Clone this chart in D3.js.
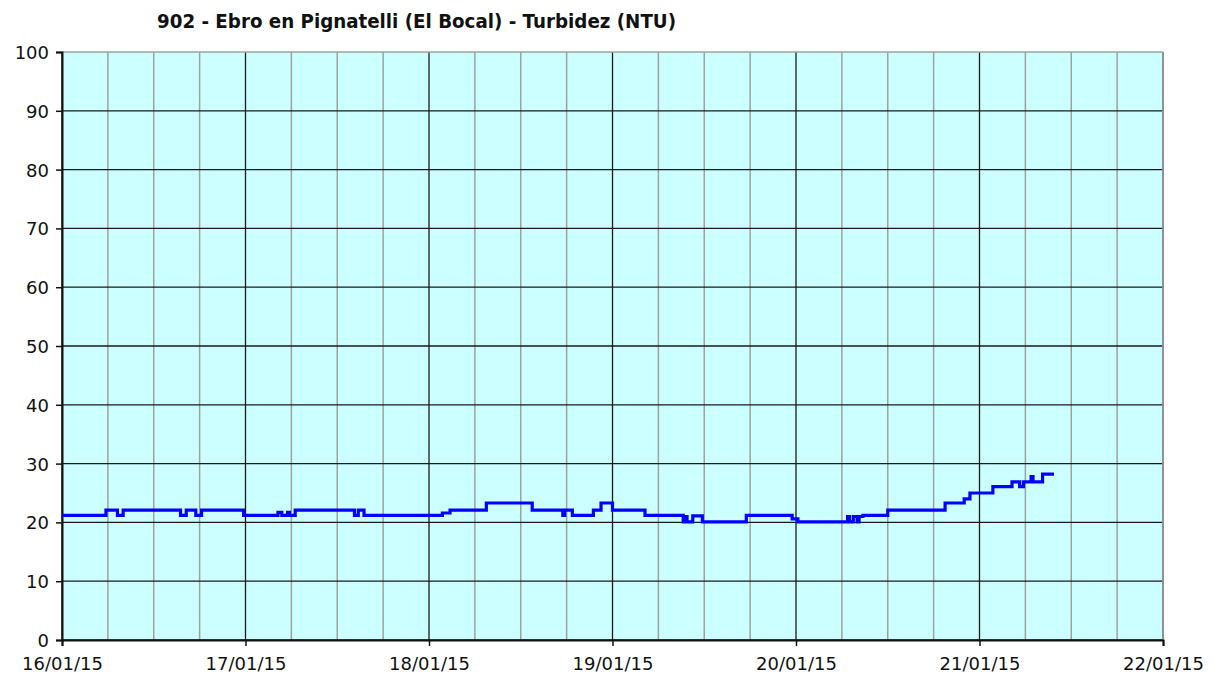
<!DOCTYPE html>
<html>
<head>
<meta charset="utf-8">
<script src="https://cdn.jsdelivr.net/npm/d3@7"></script>
<style>
  body { margin: 0; background: #fff; }
  svg text { font-family: "DejaVu Sans", Verdana, sans-serif; fill: #111; }
</style>
</head>
<body>
<svg width="1221" height="680"></svg>
<script>
// readings (step changes)
const times = [
  "16/01/15 00:00", "16/01/15 05:45", "16/01/15 07:15", "16/01/15 08:00", "16/01/15 15:30",
  "16/01/15 16:15", "16/01/15 17:30", "16/01/15 18:15", "16/01/15 23:45", "17/01/15 04:15",
  "17/01/15 04:45", "17/01/15 05:30", "17/01/15 05:45", "17/01/15 06:30", "17/01/15 14:15",
  "17/01/15 14:45", "17/01/15 15:30", "18/01/15 01:45", "18/01/15 02:45", "18/01/15 07:30",
  "18/01/15 13:30", "18/01/15 17:30", "18/01/15 17:45", "18/01/15 18:45", "18/01/15 21:30",
  "18/01/15 22:30", "19/01/15 00:00", "19/01/15 04:15", "19/01/15 09:15", "19/01/15 09:30",
  "19/01/15 09:45", "19/01/15 10:30", "19/01/15 11:45", "19/01/15 17:30", "19/01/15 23:30",
  "20/01/15 00:15", "20/01/15 06:45", "20/01/15 07:00", "20/01/15 07:30", "20/01/15 08:00",
  "20/01/15 08:15", "20/01/15 08:45", "20/01/15 12:00", "20/01/15 19:30", "20/01/15 22:00",
  "20/01/15 22:45", "21/01/15 01:45", "21/01/15 04:15", "21/01/15 05:15", "21/01/15 05:45",
  "21/01/15 06:45", "21/01/15 07:00", "21/01/15 08:15", "21/01/15 09:45"
];
const ntu = [
  21.2, 22.1, 21.2, 22.1, 21.2,
  22.1, 21.2, 22.1, 21.2, 21.7,
  21.2, 21.7, 21.2, 22.1, 21.2,
  22.1, 21.2, 21.6, 22.1, 23.3,
  22.1, 21.2, 22.1, 21.2, 22.1,
  23.3, 22.1, 21.2, 20.1, 21.0,
  20.1, 21.1, 20.1, 21.2, 20.6,
  20.1, 21.0, 20.1, 21.0, 20.1,
  21.0, 21.2, 22.1, 23.3, 24.0,
  25.0, 26.1, 26.9, 26.1, 26.9,
  27.8, 26.9, 28.2, 28.2
];
const xTickLabels = ["16/01/15", "17/01/15", "18/01/15", "19/01/15", "20/01/15", "21/01/15", "22/01/15"];
const yTicks = [0, 10, 20, 30, 40, 50, 60, 70, 80, 90, 100];
const title = "902 - Ebro en Pignatelli (El Bocal) - Turbidez (NTU)";

const parse = d3.timeParse("%d/%m/%y %H:%M");
const dateParse = d3.timeParse("%d/%m/%y");
const data = times.map((t, i) => ({ t: parse(t), v: ntu[i] }));
const days = xTickLabels.map(dateParse);

const plotLeft = 62, plotRight = 1163, plotTop = 52, plotBottom = 640;

const svg = d3.select('svg');

const xScale = d3.scaleTime()
  .domain([days[0], days[days.length - 1]])
  .range([plotLeft, plotRight]);

const yScale = d3.scaleLinear()
  .domain([0, 100])
  .range([plotBottom, plotTop]);

// plot background
svg.append('rect')
  .attr('x', plotLeft).attr('y', plotTop)
  .attr('width', plotRight - plotLeft).attr('height', plotBottom - plotTop)
  .attr('fill', '#ccffff');

// 6-hour grid lines
const quarters = d3.timeHour.every(6).range(days[0], d3.timeHour.offset(days[days.length - 1], 1));
svg.append('g')
  .selectAll('line')
  .data(quarters)
  .enter()
  .append('line')
  .attr('x1', d => xScale(d)).attr('x2', d => xScale(d))
  .attr('y1', plotTop).attr('y2', plotBottom)
  .attr('stroke', d => d.getHours() === 0 ? '#1a1a1a' : '#a0a0a0')
  .attr('stroke-width', d => d.getHours() === 0 ? 1.3 : 1.5);

// horizontal grid lines
svg.append('g')
  .selectAll('line')
  .data(yTicks)
  .enter()
  .append('line')
  .attr('x1', plotLeft).attr('x2', plotRight)
  .attr('y1', d => yScale(d)).attr('y2', d => yScale(d))
  .attr('stroke', d => d === 100 ? '#a0a0a0' : '#1a1a1a')
  .attr('stroke-width', d => d === 100 ? 1.5 : 1.3);

// right border
svg.append('line')
  .attr('x1', plotRight).attr('x2', plotRight)
  .attr('y1', plotTop).attr('y2', plotBottom)
  .attr('stroke', '#a0a0a0').attr('stroke-width', 1.5);

// axes
let yAxis = d3.axisLeft(yScale).tickValues(yTicks).tickSize(6).tickPadding(7);
let xAxis = d3.axisBottom(xScale).tickValues(days).tickSize(6).tickPadding(10)
  .tickFormat((d, i) => xTickLabels[i]);

let gy = svg.append('g')
  .attr('transform', `translate(${plotLeft},0)`)
  .call(yAxis);
let gx = svg.append('g')
  .attr('transform', `translate(0,${plotBottom})`)
  .call(xAxis);

[gx, gy].forEach(g => {
  g.select('.domain').attr('stroke', '#111').attr('stroke-width', 2);
  g.selectAll('.tick line').attr('stroke', '#111').attr('stroke-width', 1.5);
  g.selectAll('.tick text')
    .style('font-family', '"DejaVu Sans", Verdana, sans-serif')
    .style('font-size', '18px')
    .attr('fill', '#111');
});
gy.selectAll('.tick text').attr('dy', '0.36em');
gx.selectAll('.tick text').attr('dy', '0.75em');

// series
let line = d3.line()
  .x(d => xScale(d.t))
  .y(d => yScale(d.v))
  .curve(d3.curveStepAfter);

svg.append('path')
  .datum(data)
  .attr('d', line)
  .attr('fill', 'none')
  .attr('stroke', '#0000ff')
  .attr('stroke-width', 3.2)
  .attr('stroke-linejoin', 'miter');

// title
svg.append('text')
  .attr('x', 157)
  .attr('y', 28)
  .attr('textLength', 519)
  .attr('lengthAdjust', 'spacingAndGlyphs')
  .style('font-size', '19px')
  .style('font-weight', 'bold')
  .text(title);
</script>
</body>
</html>
